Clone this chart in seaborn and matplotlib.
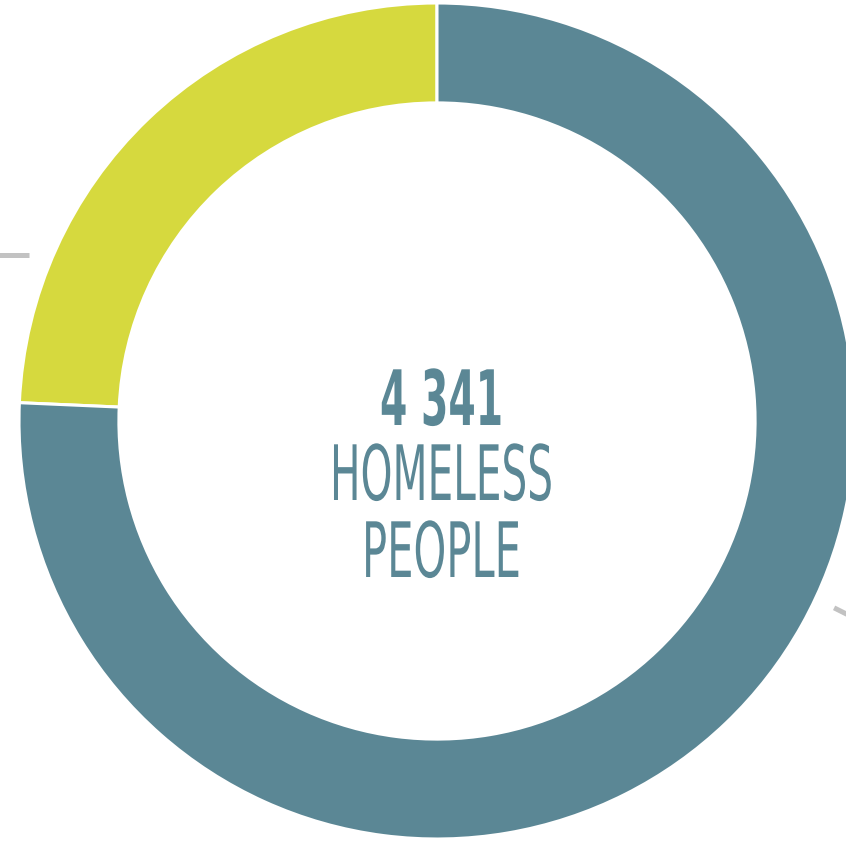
import matplotlib
matplotlib.use("Agg")
import matplotlib.pyplot as plt
from matplotlib.patheffects import AbstractPathEffect
from matplotlib.transforms import Affine2D
import seaborn as sns

# shares of the 4 341 homeless people
groups = ["Group A", "Group B"]
counts = [1055, 3286]
ring_colors = ["#D6D93E", "#5B8795"]

total_label = "4 341"
line1 = "HOMELESS"
line2 = "PEOPLE"
text_color = "#5B8795"

sns.set_style("white")
plt.rcParams['font.family'] = ['Liberation Sans Narrow', 'DejaVu Sans']


class Squeeze(AbstractPathEffect):
    # narrows the glyphs around a center x so the text looks condensed
    def __init__(self, sx, cx):
        super().__init__()
        self.sx = sx
        self.cx = cx

    def draw_path(self, renderer, gc, tpath, affine, rgbFace=None):
        squeeze = Affine2D().translate(-self.cx, 0).scale(self.sx, 1).translate(self.cx, 0)
        renderer.draw_path(gc, tpath, affine + squeeze, rgbFace)


fig = plt.figure(figsize=(8.46, 8.44), dpi=100)
ax = fig.add_axes([0, 0, 1, 1])

ax.pie(counts, colors=ring_colors, startangle=90, counterclock=True,
       radius=1.0, wedgeprops=dict(width=0.239, edgecolor="white", linewidth=2.2))

# the ring runs off the right edge, so fix the view after pie()
scale = 418.0
ax.set_xlim(-437 / scale, (846 - 437) / scale)
ax.set_ylim(-423 / scale, 421 / scale)
ax.set_aspect("equal")
ax.axis("off")

# leader line stubs of the outside labels
ax.plot([-1.06, -0.976], [0.398, 0.398], color="#C2C2C2", lw=3.6, solid_capstyle="butt")
ax.plot([0.95, 1.02], [-0.447, -0.482], color="#C2C2C2", lw=3.6, solid_capstyle="butt")

cx_data = 4.5 / scale
texts = [
    (total_label, -4 / scale, "bold", 123),
    (line1, -79 / scale, "normal", 223),
    (line2, -156 / scale, "normal", 159),
]
fig.canvas.draw()
for s, y, weight, target_w in texts:
    t = ax.text(cx_data, y, s, ha="center", va="baseline", fontsize=55,
                fontweight=weight, color=text_color)
    fig.canvas.draw()
    w = t.get_window_extent().width
    cx = ax.transData.transform((cx_data, y))[0]
    t.set_path_effects([Squeeze(target_w / w, cx)])

fig.savefig("out.png", dpi=100)
